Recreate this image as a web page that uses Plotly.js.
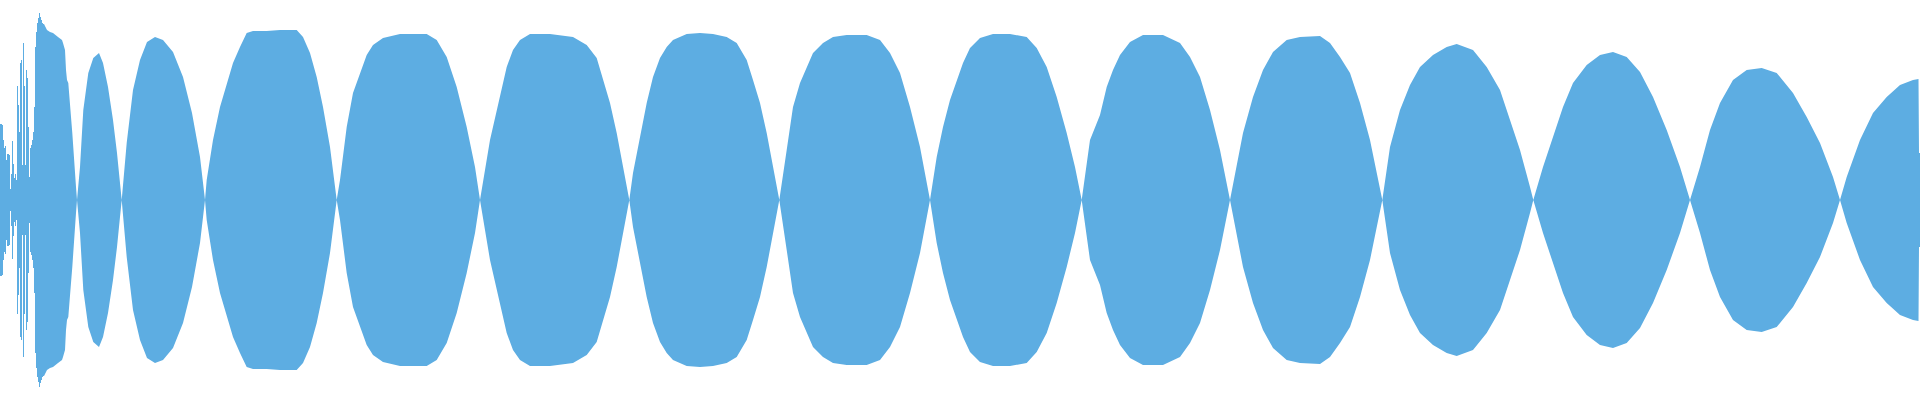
<!DOCTYPE html>
<html>
<head>
<meta charset="utf-8">
<script src="https://cdn.plot.ly/plotly-3.0.1.min.js"></script>
<style>html,body{margin:0;padding:0;background:#fff;}#chart{width:1920px;height:400px;}</style>
</head>
<body>
<div id="chart"></div>
<script>
// Dense onset: per-column peak amplitude (samples 0..43)
const onsetX = [];
for (let i = 0; i < 44; i++) onsetX.push(i + 0.5);
const onsetAmp = [76,76,75,60,52,54,40,46,46,45,11,26,59,36,22,26,20,114,95,68,137,140,35,157,114,35,130,122,73,23,52,55,60,68,93,153,168,177,182,187,183,180,177,176];

// Envelope of the sustained part
const envX = [44,47,50,53,58,62,63,65,66,67,68.3,69.3,71,72.3,73.3,75,76,77,
80,83.3,88.3,93.3,99,103,108,113,117,121.7,
126.7,133,140,147,155,163,173,183,192,200,205,
206.7,213,220,226.7,233,240,246.7,253,266.7,280,296.7,303,310,316.7,323,330,336.7,
340,346.7,353,360,366.7,373,383,400,426.7,436.7,446.7,456.7,466.7,475,480,
490,500,506.7,513,520,530,550,573,586.7,596.7,603,610,616.7,623,629.3,
633,640,646.7,653,660,666.7,673,686.7,700,713,726.7,736.7,746.7,753,760,766.7,773,779.3,
786.7,793,800,806.7,813,823,833,846.7,866.7,880,890,900,910,920,930,
936.7,943,950,956.7,963,970,980,993,1010,1026.7,1036.7,1046.7,1056.7,1066.7,1075,1081.7,
1090,1100,1106.7,1113,1120,1130,1143,1163,1180,1190,1200,1210,1220,1230,
1236.7,1243,1253,1263,1273,1286.7,1300,1320,1330,1340,1350,1360,1370,1378,1382.3,
1390,1400,1410,1420,1433,1446.7,1456.7,1473,1486.7,1500,1510,1520,1530,1533.3,
1543,1553,1563,1573,1586.7,1600,1613,1626.7,1640,1653,1666.7,1680,1690,
1700,1710,1720,1733,1746.7,1761.7,1776.7,1793,1806.7,1820,1833,1840,
1846.7,1860,1873,1886.7,1900,1913,1918.5,1919,1920];
const envAmp = [176,170,168,167,163,160,157,150,130,120,117,100,83,67,50,27,13,0,
33,90,127,142,147,137,113,80,47,0,
57,110,140,158,163,160,148,123,87,43,0,
20,60,93,117,137,153,167,169,169,170,170,163,147,123,93,53,0,
20,73,107,127,145,155,162,166,166,160,143,113,73,33,0,
60,105,133,150,160,166,166,163,155,142,120,97,67,33,0,
27,63,97,123,142,153,160,166,167,166,163,157,140,120,97,67,33,0,
50,93,117,133,147,157,163,165,165,160,147,127,93,53,0,
43,73,100,120,137,152,162,166,166,163,152,133,103,67,33,0,
60,85,113,130,145,158,165,165,157,143,123,90,50,0,
33,67,103,130,148,160,163,164,157,143,127,97,60,23,0,
53,90,115,133,145,153,156,150,133,110,80,50,13,0,
33,63,93,117,135,145,148,143,128,103,70,33,0,
33,70,97,120,130,132,127,107,83,57,23,0,
23,60,87,103,115,120,121,47,47];

const fillColor = '#5DADE2';

const onsetBase = onsetAmp.map(a => -a);
const onsetSpan = onsetAmp.map(a => 2 * a);
const lower = envAmp.map(a => -a);
const upper = envAmp.slice();

const lineStyle = {width:0, color:fillColor, shape:'linear'};

const data = [
  {type:'bar', x:onsetX, y:onsetSpan, base:onsetBase, width:1,
   marker:{color:fillColor, line:{width:0}}, hoverinfo:'skip', showlegend:false},
  {type:'scatter', mode:'lines', x:envX, y:lower, line:lineStyle,
   hoverinfo:'skip', showlegend:false},
  {type:'scatter', mode:'lines', x:envX, y:upper, fill:'tonexty', fillcolor:fillColor,
   line:lineStyle, hoverinfo:'skip', showlegend:false}
];

const layout = {
  width:1920, height:400,
  margin:{l:0, r:0, t:0, b:0, pad:0},
  paper_bgcolor:'#ffffff', plot_bgcolor:'#ffffff',
  bargap:0,
  xaxis:{range:[0,1920], showgrid:false, zeroline:false, showticklabels:false, showline:false, ticks:'', fixedrange:true},
  yaxis:{range:[-200,200], showgrid:false, zeroline:false, showticklabels:false, showline:false, ticks:'', fixedrange:true},
  showlegend:false
};

Plotly.newPlot('chart', data, layout, {displayModeBar:false, staticPlot:true});
</script>
</body>
</html>
